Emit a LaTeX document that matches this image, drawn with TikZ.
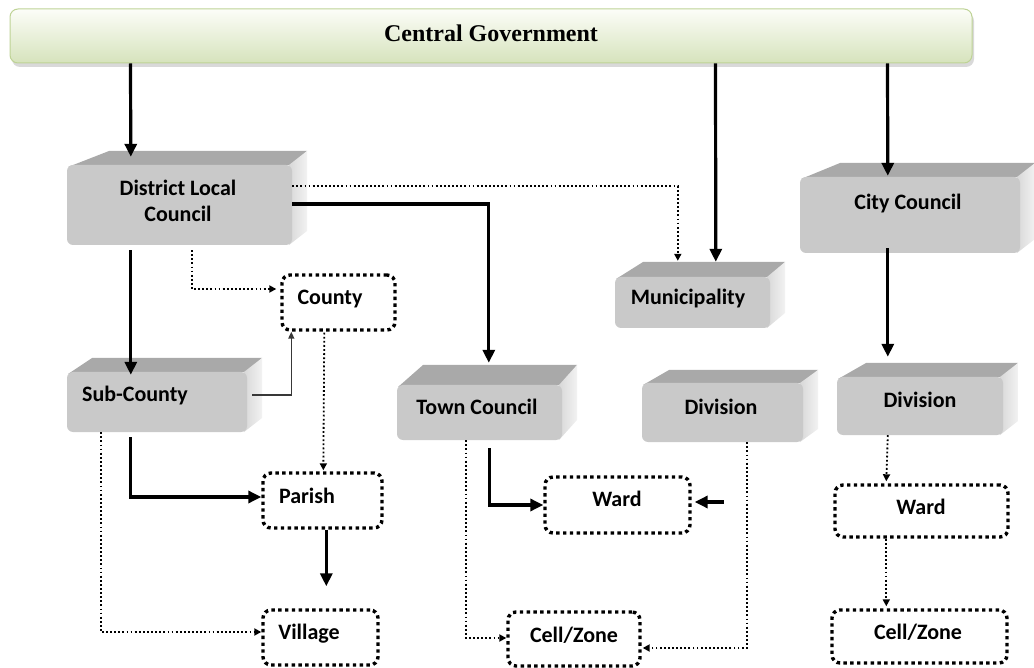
\documentclass[tikz,border=0pt]{standalone}
\usepackage{fontspec}
\newfontfamily\lblfont{Carlito}
\newfontfamily\cgfont{Liberation Serif}
\usetikzlibrary{arrows.meta,calc}
\definecolor{frontgray}{HTML}{C9C9C9}
\definecolor{topgray}{HTML}{A9A9A9}
\definecolor{sidel}{HTML}{D8D8D8}
\definecolor{sider}{HTML}{F2F2F2}
\definecolor{cgtop}{HTML}{FCFDF8}
\definecolor{cgbot}{HTML}{D6E3BC}
\definecolor{cgline}{HTML}{BED395}
\definecolor{thingray}{HTML}{383838}
% #1 name, #2 x0, #3 y0, #4 x1, #5 y1, #6 depth, #7 left slant
\newcommand\cubebox[7]{%
  \fill[topgray] (#2+1,#3+2) -- (#2+#7,#3-#6) -- (#4+15,#3-#6) -- (#4,#3) -- cycle;
  \shade[left color=sidel,right color=sider] (#4-3,#3) -- (#4+15,#3-#6) -- (#4+15,#5-#6) -- (#4-3,#5) -- cycle;
  \node[frontbox, minimum width={#4-#2}, minimum height={#5-#3}] (#1) at ({(#2+#4)/2},{(#3+#5)/2}) {};
}
\newcommand\dotbox[5]{%
  \node[dottedbox, minimum width={#4-#2}, minimum height={#5-#3}] (#1) at ({(#2+#4)/2},{(#3+#5)/2}) {};
}
\begin{document}
\begin{tikzpicture}[x=1pt,y=-1pt,
  frontbox/.style={fill=frontgray, rounded corners=6pt, inner sep=0pt},
  dottedbox/.style={draw=black, fill=white, line width=3.4pt, dash pattern=on 3.4pt off 3.4pt, rounded corners=8pt, inner sep=0pt},
  lbl/.style={font=\lblfont\bfseries\fontsize{22}{26}\selectfont, inner sep=0pt, anchor=base},
  thickarr/.style={line width=3.2pt, -{Triangle[length=13pt,width=12pt]}},
  dotarr/.style={line width=1.8pt, dash pattern=on 1.8pt off 2.3pt, -{Triangle[length=7pt,width=7pt]}},
  thinarr/.style={line width=1.5pt, thingray, -{Triangle[length=7pt,width=6pt]}}]
\useasboundingbox (0,0) rectangle (1034,668);

% Central Government bar
\fill[black!25, opacity=0.6, rounded corners=8pt] (12,13) rectangle (974,67);
\node[draw=cgline, line width=1pt, top color=cgtop, bottom color=cgbot, rounded corners=8pt,
      minimum width=962, minimum height=54, inner sep=0pt] (cg) at (491,36) {};
\node[font=\cgfont\bfseries\fontsize{24}{28}\selectfont, inner sep=0pt, anchor=base] (cgt) at (491,42) {Central Government};

% 3D boxes
\cubebox{dlc}{67}{165}{292}{245}{14}{42}
\cubebox{city}{800}{177}{1020}{253}{14}{40}
\cubebox{muni}{615}{277}{770}{328}{15}{28}
\cubebox{sc}{67}{372}{247}{432}{14}{25}
\cubebox{town}{397}{385}{562}{440}{20}{26}
\cubebox{divm}{642}{383}{803}{442}{13}{27}
\cubebox{divc}{837}{377}{1003}{435}{14}{29}

% dotted boxes
\dotbox{county}{282}{275}{395}{330}
\dotbox{parish}{263}{473}{382}{528}
\dotbox{village}{263}{610}{378}{665}
\dotbox{wardt}{545}{477}{690}{533}
\dotbox{cellt}{508}{612}{640}{666}
\dotbox{wardc}{835}{485}{1008}{537}
\dotbox{cellc}{832}{610}{1007}{663}

% labels
\node[lbl, anchor=center, align=center] (dlct) at (178,201) {District Local\\Council};
\node[lbl] (cityt) at (908,210) {City Council};
\node[lbl] (munit) at (688,305) {Municipality};
\node[lbl] (sct) at (135,402) {Sub-County};
\node[lbl] (townt) at (477,414) {Town Council};
\node[lbl] (divmt) at (721,414) {Division};
\node[lbl] (divct) at (920,407) {Division};
\node[lbl] (countyt) at (330,305) {County};
\node[lbl] (parisht) at (307,503) {Parish};
\node[lbl] (villaget) at (309,639) {Village};
\node[lbl] (wardtt) at (617,506) {Ward};
\node[lbl] (celltt) at (574,642) {Cell/Zone};
\node[lbl] (wardct) at (921,514) {Ward};
\node[lbl] (cellct) at (918,639) {Cell/Zone};

% connectors
\draw[thickarr] ($(cg.south west)+(121,0)$) -- ($(dlc.north west)+(64,-8)$);
\draw[thickarr] ($(cg.south west)+(706,0)$) -- ($(muni.north west)+(101,-15)$);
\draw[thickarr] ($(cg.south west)+(878,0)$) -- ($(city.north west)+(88,-1)$);

\draw[dotarr] ($(dlc.east)+(0,-19)$) -| ($(muni.north west)+(63,-16)$);
\draw[thickarr] ($(dlc.east)+(0,-1)$) -| ($(town.north west)+(92,-22)$);
\draw[thickarr] ($(dlc.south west)+(64,5)$) -- ($(sc.north west)+(64,3)$);
\draw[dotarr] ($(dlc.south west)+(125,5)$) |- ($(county.west)+(-4,-13.5)$);

\draw[thinarr] ($(sc.east)+(5,-7)$) -| ($(county.south west)+(11,0)$);
\draw[dotarr] ($(county.south west)+(44,1)$) -- ($(parish.north west)+(62,-1)$);
\draw[thickarr] ($(sc.south west)+(64,5)$) |- ($(parish.west)+(0,-3.5)$);
\draw[thickarr] ($(parish.south west)+(65,0)$) -- ($(village.north west)+(65,-22)$);
\draw[dotarr] ($(sc.south west)+(34,0)$) |- ($(village.west)+(0,-5.5)$);

\draw[thickarr] ($(town.south west)+(93,8)$) |- ($(wardt.west)+(0,0)$);
\coordinate (wfree) at ($(wardt.east)+(32,-3)$);
\draw[thickarr] (wfree) -- ($(wardt.east)+(3,-3)$);
\draw[dotarr] ($(town.south west)+(69,0)$) |- ($(cellt.west)+(0,-1)$);
\draw[dotarr] ($(divm.south west)+(105,0)$) |- ($(cellt.east)+(1,9)$);

\draw[thickarr] ($(city.south west)+(88,-5)$) -- ($(divc.north west)+(51,-20)$);
\draw[dotarr] ($(divc.south west)+(51,0)$) -- ($(wardc.north west)+(53,-2)$);
\draw[dotarr] ($(wardc.south west)+(53,0)$) -- ($(cellc.north west)+(56,-2)$);
\end{tikzpicture}
\end{document}
